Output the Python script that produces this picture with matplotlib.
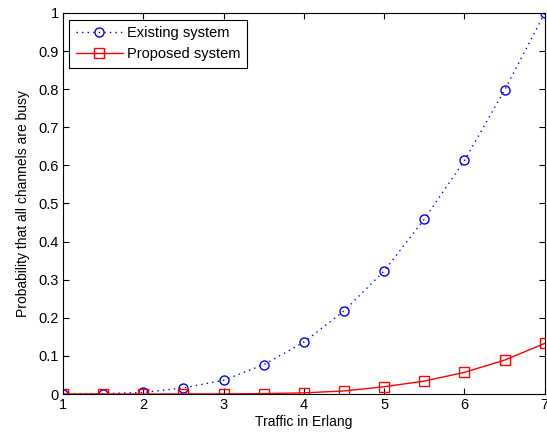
import matplotlib
matplotlib.use("Agg")
import matplotlib.pyplot as plt

plt.rcParams['font.family'] = ['Liberation Sans', 'DejaVu Sans']

traffic = [1, 1.5, 2, 2.5, 3, 3.5, 4, 4.5, 5, 5.5, 6, 6.5, 7]
existing = [0.0004, 0.001, 0.004, 0.016, 0.036, 0.077, 0.136, 0.218, 0.323, 0.459, 0.613, 0.798, 1.0]
proposed = [0.0, 0.0, 0.0, 0.0001, 0.0003, 0.001, 0.003, 0.008, 0.019, 0.034, 0.057, 0.089, 0.133]
xticks = [1, 2, 3, 4, 5, 6, 7]
yticks = [0, 0.1, 0.2, 0.3, 0.4, 0.5, 0.6, 0.7, 0.8, 0.9, 1]
ytick_labels = ['0', '0.1', '0.2', '0.3', '0.4', '0.5', '0.6', '0.7', '0.8', '0.9', '1']

fig = plt.figure(figsize=(5.47, 4.36), dpi=100)
ax = fig.add_axes([0.115, 0.0963, 0.881, 0.874])

ax.plot(traffic, existing, linestyle=(0, (1, 3)), color='blue', marker='o', markersize=6.5,
        markerfacecolor='none', markeredgecolor='blue', linewidth=1, label='Existing system')
ax.plot(traffic, proposed, linestyle='-', color='red', marker='s', markersize=6.5,
        markerfacecolor='none', markeredgecolor='red', linewidth=1, label='Proposed system')

ax.set_xlim(1, 7)
ax.set_ylim(0, 1)
ax.set_xticks(xticks)
ax.set_xticklabels([str(t) for t in xticks])
ax.set_yticks(yticks)
ax.set_yticklabels(ytick_labels)
ax.tick_params(direction='in', top=True, right=True, labelsize=10.5, length=4, pad=3)
ax.set_xlabel('Traffic in Erlang', fontsize=10, labelpad=2)
ax.set_ylabel('Probability that all channels are busy', fontsize=10, labelpad=6)

leg = ax.legend(loc='upper left', fontsize=10.5, fancybox=False, edgecolor='black',
                framealpha=1, borderaxespad=0.45, handlelength=3.2, borderpad=0.45,
                labelspacing=0.5, handletextpad=0.3)
leg.get_frame().set_linewidth(0.8)

fig.savefig('out.png', dpi=100)
